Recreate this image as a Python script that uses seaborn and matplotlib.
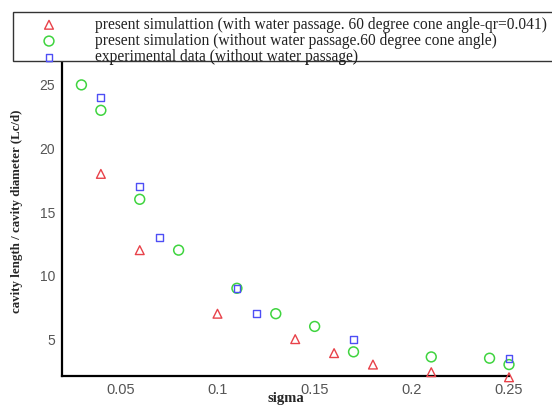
import matplotlib
matplotlib.use("Agg")
import matplotlib.pyplot as plt
import seaborn as sns
import numpy as np
from matplotlib.patches import Rectangle
from matplotlib.ticker import MultipleLocator

# Cavity length ratio vs. cavitation number
sigma_water = [0.04, 0.06, 0.10, 0.14, 0.16, 0.18, 0.21, 0.25]
lcd_water = [18, 12, 7, 5, 3.9, 3.0, 2.4, 2.0]

sigma_nowater = [0.03, 0.04, 0.06, 0.08, 0.11, 0.13, 0.15, 0.17, 0.21, 0.24, 0.25]
lcd_nowater = [25, 23, 16, 12, 9, 7, 6, 4, 3.6, 3.5, 3.0]

sigma_exp = [0.04, 0.06, 0.07, 0.11, 0.12, 0.17, 0.25]
lcd_exp = [24, 17, 13, 9, 7, 5, 3.5]

labels = [
    "present simulattion (with water passage. 60 degree cone angle-qr=0.041)",
    "present simulation (without water passage.60 degree cone angle)",
    "experimental data (without water passage)",
]

sns.set_style("white")
plt.rcParams["font.family"] = ["Liberation Serif", "DejaVu Serif"]

W, H = 552, 405
fig = plt.figure(figsize=(W / 100, H / 100), dpi=100)
ax = fig.add_axes([62 / W, 1 - 376 / H, (509 - 62) / W, (376 - 62) / H])

red, green, blue = "#e8424a", "#3fd43f", "#4e4ef5"
sns.scatterplot(x=sigma_water, y=lcd_water, ax=ax, marker="^", s=40,
                facecolor="none", edgecolor=red, linewidth=1.0,
                label=labels[0], clip_on=False, zorder=3)
sns.scatterplot(x=sigma_nowater, y=lcd_nowater, ax=ax, marker="o", s=50,
                facecolor="none", edgecolor=green, linewidth=1.1,
                label=labels[1], clip_on=False, zorder=3)
sns.scatterplot(x=sigma_exp, y=lcd_exp, ax=ax, marker="s", s=24,
                facecolor="none", edgecolor=blue, linewidth=1.0,
                label=labels[2], clip_on=False, zorder=4)

ax.set_xlim(0.02, 0.25)
ax.set_ylim(2.1, 26.8)
ax.xaxis.set_minor_locator(MultipleLocator(0.01))
ax.yaxis.set_minor_locator(MultipleLocator(1))
ax.set_xticks([0.05, 0.10, 0.15, 0.20, 0.25])
ax.set_xticklabels(["0.05", "0.1", "0.15", "0.2", "0.25"])
ax.set_yticks([5, 10, 15, 20, 25])
ax.set_yticklabels(["5", "10", "15", "20", "25"])

for side in ["top", "right"]:
    ax.spines[side].set_visible(False)
for side in ["left", "bottom"]:
    ax.spines[side].set_color("black")
    ax.spines[side].set_linewidth(1.6)

ax.tick_params(which="major", direction="in", length=6, width=1.5,
               color="black", labelcolor="#555555", pad=5)
ax.tick_params(which="minor", direction="in", length=3.5, width=1.0,
               color="black")
for lab in ax.get_xticklabels():
    lab.set_fontfamily(["Liberation Sans", "DejaVu Sans"])
    lab.set_fontsize(10.5)
for lab in ax.get_yticklabels():
    lab.set_fontfamily(["Liberation Sans", "DejaVu Sans"])
    lab.set_fontsize(10)

ax.set_xlabel("sigma", fontsize=10.5, fontweight="bold")
ax.xaxis.set_label_coords(0.5, (376 - 392) / 314)
ax.set_ylabel("cavity length / cavity diameter (Lc/d)", fontsize=9.3,
              fontweight="bold")
ax.yaxis.set_label_coords((23 - 62) / 447, (376 - 211) / 314)

# legend entries without their own frame; the box is drawn separately
leg = ax.legend(loc="upper left", bbox_to_anchor=(14 / W, 1 - 14.5 / H),
                bbox_transform=fig.transFigure, frameon=False,
                fontsize=11.2, handlelength=4.2, handletextpad=0.85,
                borderpad=0.15, labelspacing=0.02, borderaxespad=0,
                scatterpoints=1)
for t in leg.get_texts():
    t.set_color("#222222")

box = Rectangle((12.5 / W, 1 - 60.5 / H), (600 - 12.5) / W, (60.5 - 12.3) / H,
                transform=fig.transFigure, facecolor="white",
                edgecolor="#333333", linewidth=1.0, zorder=9)
fig.add_artist(box)
fig.add_artist(leg)
leg.set_zorder(11)

fig.savefig("out.png", dpi=100)
